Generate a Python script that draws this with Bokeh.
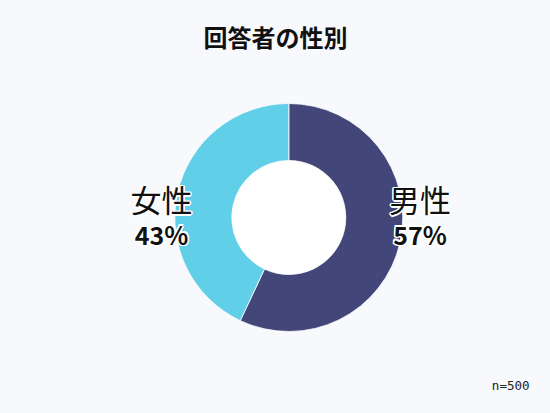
import math
from bokeh.plotting import figure
from bokeh.models import Range1d, ColumnDataSource
from bokeh.core.properties import value
from bokeh.embed import file_html
from bokeh.resources import INLINE

title = "回答者の性別"
categories = ["男性", "女性"]
shares = [57, 43]
colors = ["#434679", "#62cfe8"]
note = "n=500"

W, H = 534, 397
BG = "#f8f9fc"
JP = "Noto Sans CJK JP"

p = figure(width=W, height=H, output_backend="svg", toolbar_location=None,
           x_range=Range1d(0, W), y_range=Range1d(0, H),
           min_border=0, background_fill_color=BG, border_fill_color=BG)
p.axis.visible = False
p.grid.visible = False
p.outline_line_color = None

cx, cy = 288.3, 180.0
r_out, r_in = 114, 57

total = sum(shares)
starts, ends = [], []
acc = 0
for s in shares:
    a0 = math.pi / 2 - 2 * math.pi * acc / total
    acc += s
    a1 = math.pi / 2 - 2 * math.pi * acc / total
    starts.append(a0)
    ends.append(a1)

src = ColumnDataSource(dict(start=starts, end=ends, color=colors,
                            x=[cx] * len(shares), y=[cy] * len(shares)))
p.annular_wedge(x="x", y="y", inner_radius=r_in, outer_radius=r_out,
                start_angle="start", end_angle="end", direction="clock",
                fill_color="color", line_color="white", line_width=0.8, source=src)
p.circle(x=[cx], y=[cy], radius=r_in - 0.5, fill_color="white", line_color=None)

# labels with white halo
label_pos = [(419.5, 199, 164), (161, 199, 164)]
pct = [f"{s}%" for s in shares]


def halo_text(x, y, txt, size, style):
    offs = [(-1.5, 0), (1.5, 0), (0, -1.5), (0, 1.5), (-1.1, -1.1), (1.1, 1.1), (-1.1, 1.1), (1.1, -1.1)]
    for dx, dy in offs:
        p.text(x=[x], y=[y], text=[txt], x_offset=dx, y_offset=dy,
               text_font=value(JP), text_font_size=f"{size}px", text_font_style=style,
               text_color="white", text_align="center", text_baseline="middle")
    p.text(x=[x], y=[y], text=[txt], text_font=value(JP), text_font_size=f"{size}px",
           text_font_style=style, text_color="#111111", text_align="center",
           text_baseline="middle")


for (lx, ly1, ly2), cat, pc in zip(label_pos, categories, pct):
    halo_text(lx, ly1, cat, 31, "normal")
    halo_text(lx, ly2, pc, 25, "bold")

p.text(x=[275], y=[361], text=[title], text_font=value(JP), text_font_size="24px",
       text_font_style="bold", text_color="#111111", text_align="center", text_baseline="middle")

p.text(x=[529], y=[12], text=[note], text_font=value("DejaVu Sans Mono"), text_font_size="12.5px",
       text_color="#222222", text_align="right", text_baseline="middle")

html = file_html(p, INLINE)
html = html.replace("</head>", "<style>body{background:%s;}</style></head>" % BG, 1)
open("out.html", "w").write(html)
